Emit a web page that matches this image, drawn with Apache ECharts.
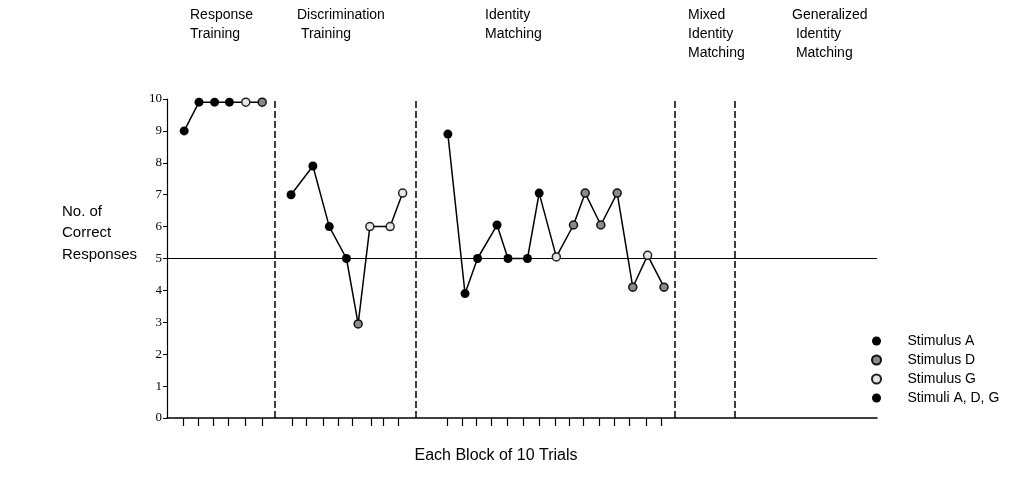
<!DOCTYPE html>
<html>
<head>
<meta charset="utf-8">
<script src="https://cdn.jsdelivr.net/npm/echarts@6/dist/echarts.min.js"></script>
<style>html,body{margin:0;padding:0;background:#fff;}#c{width:1017px;height:491px;}</style>
</head>
<body>
<div id="c"></div>
<script>
// ---- data (x in block units along the axis, y = number of correct responses) ----
const phase1X = [1.1, 2.05, 3.05, 4, 5.05, 6.1];
const phase1Y = [9, 9.9, 9.9, 9.9, 9.9, 9.9];
const phase1S = ['A', 'A', 'A', 'A', 'G', 'D'];

const phase2X = [7.95, 9.35, 10.4, 11.5, 12.25, 13.0, 14.3, 15.1];
const phase2Y = [7, 7.9, 6, 5, 2.95, 6, 6, 7.05];
const phase2S = ['A', 'A', 'A', 'A', 'D', 'G', 'G', 'G'];

const phase3X = [18, 19.1, 19.9, 21.15, 21.85, 23.1, 23.85, 24.95, 26.05, 26.8, 27.8, 28.85, 29.85, 30.8, 31.85];
const phase3Y = [8.9, 3.9, 5, 6.05, 5, 5, 7.05, 5.05, 6.05, 7.05, 6.05, 7.05, 4.1, 5.1, 4.1];
const phase3S = ['A', 'A', 'A', 'A', 'A', 'A', 'A', 'G', 'D', 'D', 'D', 'D', 'D', 'G', 'D'];

const blockTicks = [1.05, 2, 2.95, 3.9, 5, 6.1,
  8, 8.95, 10, 10.95, 11.9, 13.1, 13.85, 14.85,
  17.95, 18.9, 19.85, 20.75, 21.8, 22.8, 23.85, 24.85, 25.75, 26.65, 27.7, 28.65, 29.65, 30.7, 31.65];
const phaseBreaks = [6.92, 15.96, 32.56, 36.41];
const criterion = 5;
const yTicks = [0, 1, 2, 3, 4, 5, 6, 7, 8, 9, 10];

const phaseTitles = [
  { text: 'Response\nTraining', x: 190 },
  { text: 'Discrimination\n Training', x: 297 },
  { text: 'Identity\nMatching', x: 485 },
  { text: 'Mixed\nIdentity\nMatching', x: 688 },
  { text: 'Generalized\n Identity\n Matching', x: 792 }
];
const legendNames = ['Stimulus A', 'Stimulus D', 'Stimulus G', 'Stimuli A, D, G'];
const stimName = { A: 'Stimulus A', D: 'Stimulus D', G: 'Stimulus G' };

// ---- styles ----
const stimStyle = {
  'Stimulus A': { color: '#000', borderColor: '#000', borderWidth: 0, size: 9 },
  'Stimulus D': { color: '#8a8a8a', borderColor: '#111', borderWidth: 1.5, size: 8 },
  'Stimulus G': { color: '#e6e6e6', borderColor: '#222', borderWidth: 1.5, size: 8 },
  'Stimuli A, D, G': { color: '#000', borderColor: '#000', borderWidth: 0, size: 9 }
};

function pairs(xs, ys) { return xs.map((x, i) => [x, ys[i]]); }
const phases = [[phase1X, phase1Y, phase1S], [phase2X, phase2Y, phase2S], [phase3X, phase3Y, phase3S]];

const series = [];
phases.forEach((p, k) => {
  series.push({
    type: 'line', name: 'phase' + (k + 1), data: pairs(p[0], p[1]),
    showSymbol: false, symbol: 'none', silent: true, z: 2,
    lineStyle: { color: '#000', width: 1.5 },
    markLine: k === 0 ? {
      silent: true, symbol: 'none', label: { show: false },
      data: [
        { yAxis: criterion, lineStyle: { type: 'solid', color: '#000', width: 1.2 } }
      ].concat(phaseBreaks.map(v => ({ xAxis: v, lineStyle: { type: [7, 3], color: '#000', width: 1.5 } })))
    } : undefined
  });
});
legendNames.forEach(name => {
  const pts = [];
  phases.forEach(p => {
    p[2].forEach((s, i) => { if (stimName[s] === name) pts.push([p[0][i], p[1][i]]); });
  });
  const st = stimStyle[name];
  series.push({
    type: 'scatter', name: name, data: pts, symbol: 'circle', symbolSize: st.size, z: 5,
    itemStyle: { color: st.color, borderColor: st.borderColor, borderWidth: st.borderWidth, opacity: 1 }
  });
});

const chart = echarts.init(document.getElementById('c'), null, { renderer: 'canvas' });
chart.setOption({
  backgroundColor: '#fff',
  animation: false,
  grid: { left: 167, right: 140, top: 99, bottom: 73 },
  xAxis: {
    type: 'value', min: 0, max: 45.5,
    axisLine: { show: true, lineStyle: { color: '#000', width: 1.5 } },
    axisTick: { show: true, customValues: blockTicks, length: 8, lineStyle: { color: '#000', width: 1.2 } },
    axisLabel: { show: false },
    splitLine: { show: false }
  },
  yAxis: {
    type: 'value', min: 0, max: 10, interval: 1,
    axisLine: { show: true, lineStyle: { color: '#000', width: 1.2 } },
    axisTick: { show: true, length: 4, lineStyle: { color: '#000' } },
    axisLabel: { color: '#000', fontFamily: 'Liberation Serif, Times New Roman, serif', fontSize: 13, margin: 5,
      formatter: v => yTicks.includes(v) ? String(v) : '' },
    splitLine: { show: false }
  },
  legend: {
    data: legendNames, orient: 'vertical', left: 866, top: 329,
    icon: 'circle', itemWidth: 32, itemHeight: 9, itemGap: 5,
    textStyle: { fontFamily: 'Liberation Sans, Arial', fontSize: 14, color: '#000', padding: [0, 0, 0, 10] },
    selectedMode: false
  },
  graphic: phaseTitles.map(t => ({
    type: 'text', left: t.x, top: 6,
    style: { text: t.text, font: '14px "Liberation Sans", Arial, sans-serif', fill: '#000', lineHeight: 19 }
  })).concat([{
    type: 'text', left: 62, top: 201,
    style: { text: 'No. of\nCorrect\nResponses', font: '15px "Liberation Sans", Arial, sans-serif', fill: '#000', lineHeight: 21.5 }
  }, {
    type: 'text', x: 496, y: 456,
    style: { text: 'Each Block of 10 Trials', font: '16px "Liberation Sans", Arial, sans-serif', fill: '#000',
      textAlign: 'center', textVerticalAlign: 'middle' }
  }]),
  series: series
});
</script>
</body>
</html>
